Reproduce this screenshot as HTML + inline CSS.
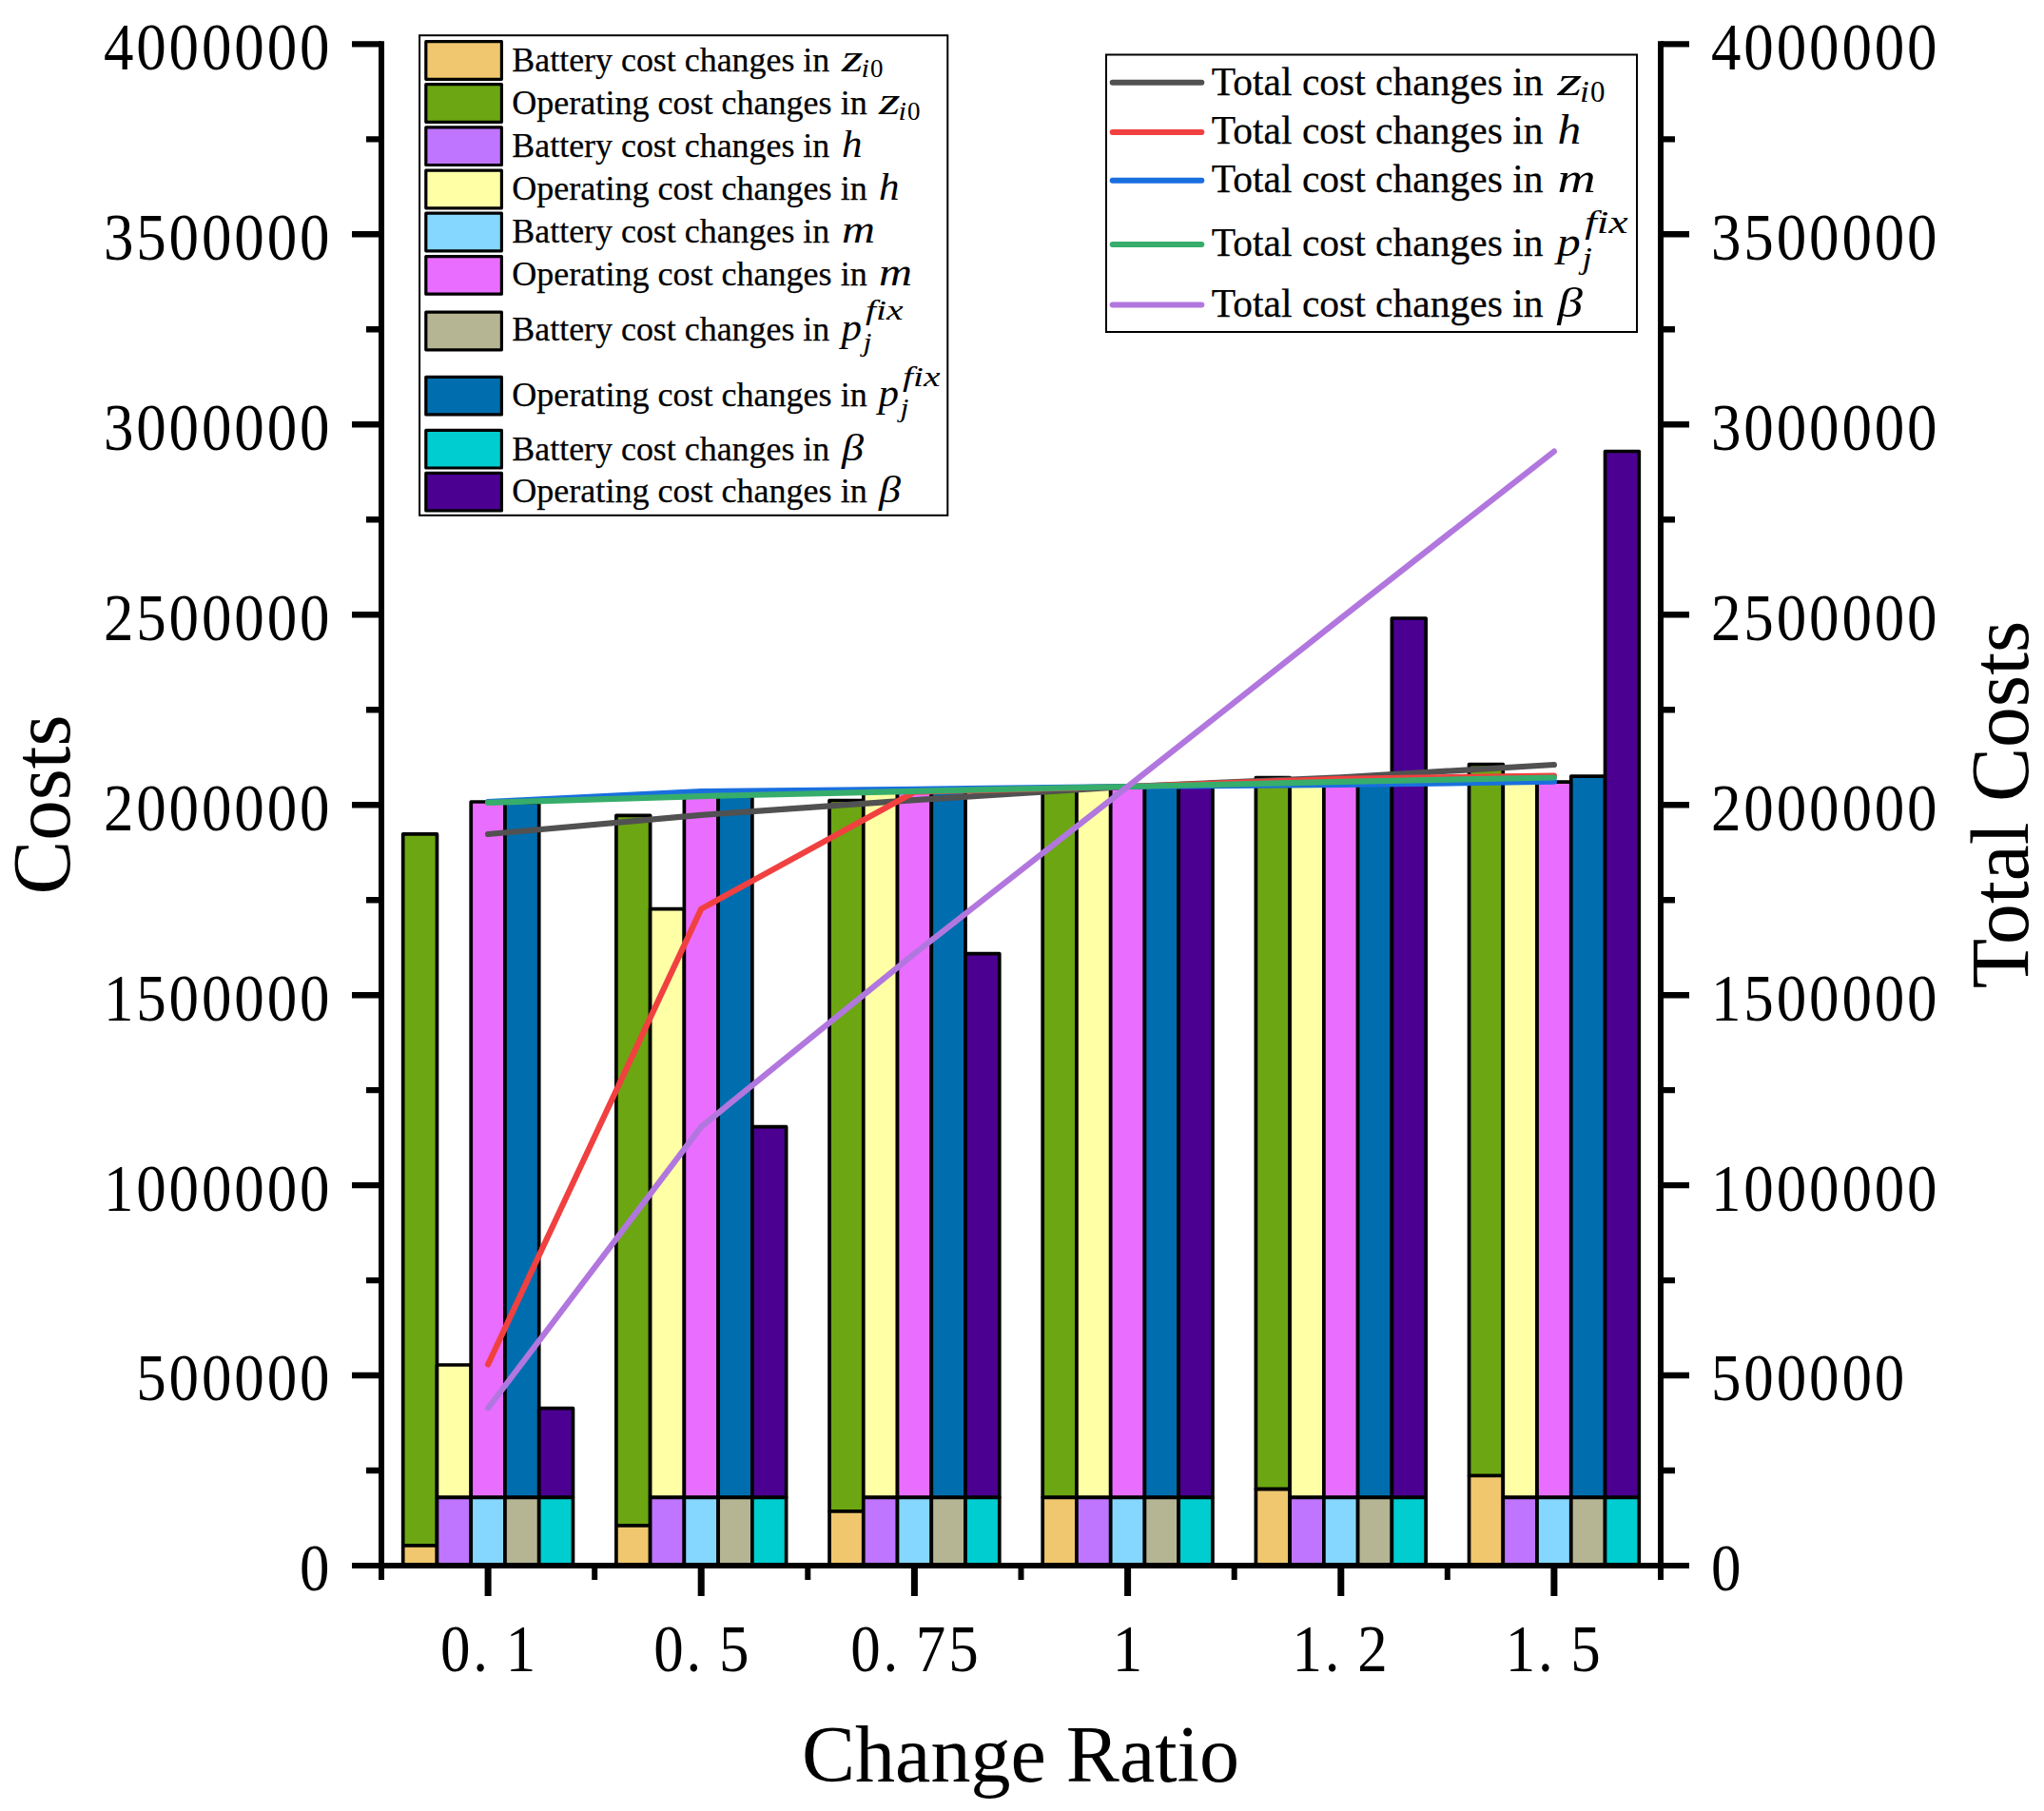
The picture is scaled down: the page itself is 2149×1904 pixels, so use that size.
<!DOCTYPE html>
<html lang="en"><head><meta charset="utf-8"><title>Cost sensitivity chart</title>
<style>html,body{margin:0;padding:0;background:#fff}body{width:2149px;height:1904px;overflow:hidden}svg{display:block}text{font-family:"Liberation Serif",serif;fill:#000}.tk{font-size:69px}.ti{font-size:85px}.l1{font-size:35.4px;stroke:#000;stroke-width:.25px}.l2{font-size:41.9px;stroke:#000;stroke-width:.25px}.it{font-style:italic}</style></head><body>
<svg width="2149" height="1904" viewBox="0 0 2149 1904">
<rect width="2149" height="1904" fill="#fff"/>
<g stroke="#000" stroke-width="3.7" stroke-linejoin="round">
<rect x="423.71" y="876.90" width="35.75" height="748.10" fill="#6CA612"/>
<rect x="423.71" y="1625.00" width="35.75" height="21.00" fill="#F0C76E"/>
<rect x="459.46" y="1435.00" width="35.75" height="139.30" fill="#FFFFA6"/>
<rect x="459.46" y="1574.30" width="35.75" height="71.70" fill="#BF75FF"/>
<rect x="495.21" y="843.00" width="35.75" height="731.30" fill="#E96DFF"/>
<rect x="495.21" y="1574.30" width="35.75" height="71.70" fill="#85D7FF"/>
<rect x="530.96" y="843.90" width="35.75" height="730.40" fill="#006DAE"/>
<rect x="530.96" y="1574.30" width="35.75" height="71.70" fill="#B5B593"/>
<rect x="566.71" y="1480.70" width="35.75" height="93.60" fill="#4B0092"/>
<rect x="566.71" y="1574.30" width="35.75" height="71.70" fill="#00CDD0"/>
<rect x="647.88" y="857.30" width="35.75" height="746.70" fill="#6CA612"/>
<rect x="647.88" y="1604.00" width="35.75" height="42.00" fill="#F0C76E"/>
<rect x="683.62" y="955.70" width="35.75" height="618.60" fill="#FFFFA6"/>
<rect x="683.62" y="1574.30" width="35.75" height="71.70" fill="#BF75FF"/>
<rect x="719.38" y="832.20" width="35.75" height="742.10" fill="#E96DFF"/>
<rect x="719.38" y="1574.30" width="35.75" height="71.70" fill="#85D7FF"/>
<rect x="755.12" y="837.10" width="35.75" height="737.20" fill="#006DAE"/>
<rect x="755.12" y="1574.30" width="35.75" height="71.70" fill="#B5B593"/>
<rect x="790.88" y="1184.70" width="35.75" height="389.60" fill="#4B0092"/>
<rect x="790.88" y="1574.30" width="35.75" height="71.70" fill="#00CDD0"/>
<rect x="872.04" y="841.50" width="35.75" height="747.50" fill="#6CA612"/>
<rect x="872.04" y="1589.00" width="35.75" height="57.00" fill="#F0C76E"/>
<rect x="907.79" y="832.70" width="35.75" height="741.60" fill="#FFFFA6"/>
<rect x="907.79" y="1574.30" width="35.75" height="71.70" fill="#BF75FF"/>
<rect x="943.54" y="829.80" width="35.75" height="744.50" fill="#E96DFF"/>
<rect x="943.54" y="1574.30" width="35.75" height="71.70" fill="#85D7FF"/>
<rect x="979.29" y="831.80" width="35.75" height="742.50" fill="#006DAE"/>
<rect x="979.29" y="1574.30" width="35.75" height="71.70" fill="#B5B593"/>
<rect x="1015.04" y="1002.70" width="35.75" height="571.60" fill="#4B0092"/>
<rect x="1015.04" y="1574.30" width="35.75" height="71.70" fill="#00CDD0"/>
<rect x="1096.21" y="827.00" width="35.75" height="747.30" fill="#6CA612"/>
<rect x="1096.21" y="1574.30" width="35.75" height="71.70" fill="#F0C76E"/>
<rect x="1131.96" y="827.00" width="35.75" height="747.30" fill="#FFFFA6"/>
<rect x="1131.96" y="1574.30" width="35.75" height="71.70" fill="#BF75FF"/>
<rect x="1167.71" y="827.00" width="35.75" height="747.30" fill="#E96DFF"/>
<rect x="1167.71" y="1574.30" width="35.75" height="71.70" fill="#85D7FF"/>
<rect x="1203.46" y="827.00" width="35.75" height="747.30" fill="#006DAE"/>
<rect x="1203.46" y="1574.30" width="35.75" height="71.70" fill="#B5B593"/>
<rect x="1239.21" y="827.00" width="35.75" height="747.30" fill="#4B0092"/>
<rect x="1239.21" y="1574.30" width="35.75" height="71.70" fill="#00CDD0"/>
<rect x="1320.38" y="817.50" width="35.75" height="748.10" fill="#6CA612"/>
<rect x="1320.38" y="1565.60" width="35.75" height="80.40" fill="#F0C76E"/>
<rect x="1356.12" y="818.80" width="35.75" height="755.50" fill="#FFFFA6"/>
<rect x="1356.12" y="1574.30" width="35.75" height="71.70" fill="#BF75FF"/>
<rect x="1391.88" y="825.00" width="35.75" height="749.30" fill="#E96DFF"/>
<rect x="1391.88" y="1574.30" width="35.75" height="71.70" fill="#85D7FF"/>
<rect x="1427.62" y="821.80" width="35.75" height="752.50" fill="#006DAE"/>
<rect x="1427.62" y="1574.30" width="35.75" height="71.70" fill="#B5B593"/>
<rect x="1463.38" y="650.00" width="35.75" height="924.30" fill="#4B0092"/>
<rect x="1463.38" y="1574.30" width="35.75" height="71.70" fill="#00CDD0"/>
<rect x="1544.54" y="803.60" width="35.75" height="747.90" fill="#6CA612"/>
<rect x="1544.54" y="1551.50" width="35.75" height="94.50" fill="#F0C76E"/>
<rect x="1580.29" y="815.50" width="35.75" height="758.80" fill="#FFFFA6"/>
<rect x="1580.29" y="1574.30" width="35.75" height="71.70" fill="#BF75FF"/>
<rect x="1616.04" y="822.10" width="35.75" height="752.20" fill="#E96DFF"/>
<rect x="1616.04" y="1574.30" width="35.75" height="71.70" fill="#85D7FF"/>
<rect x="1651.79" y="816.20" width="35.75" height="758.10" fill="#006DAE"/>
<rect x="1651.79" y="1574.30" width="35.75" height="71.70" fill="#B5B593"/>
<rect x="1687.54" y="474.50" width="35.75" height="1099.80" fill="#4B0092"/>
<rect x="1687.54" y="1574.30" width="35.75" height="71.70" fill="#00CDD0"/>
</g>
<g fill="none" stroke-width="6.2" stroke-linecap="round" stroke-linejoin="round">
<polyline stroke="#515151" points="513.1,877.0 737.2,856.9 961.4,841.1 1185.6,827.0 1409.8,817.3 1633.9,804.0"/>
<polyline stroke="#F14040" points="513.1,1434.5 737.2,955.6 961.4,832.7 1185.6,827.0 1409.8,818.8 1633.9,815.5"/>
<polyline stroke="#1A6FDF" points="513.1,843.2 737.2,832.2 961.4,829.8 1185.6,827.0 1409.8,825.0 1633.9,821.7"/>
<polyline stroke="#37AD6B" points="513.1,843.9 737.2,837.1 961.4,831.8 1185.6,827.0 1409.8,821.8 1633.9,817.5"/>
<polyline stroke="#B177DE" points="513.1,1480.5 737.2,1184.7 961.4,1002.7 1185.6,827.0 1409.8,650.0 1633.9,474.6"/>
</g>
<g stroke="#000" fill="none">
<path stroke-width="6" d="M401.0 43.2V1649.0 M1746.0 43.2V1649.0 M370.0 1646.0H1776.0"/>
<path stroke-width="6.4" d="M385.0 1546.0H401.0M1746.0 1546.0H1761.0M370.0 1446.0H401.0M1746.0 1446.0H1776.0M385.0 1346.1H401.0M1746.0 1346.1H1761.0M370.0 1246.1H401.0M1746.0 1246.1H1776.0M385.0 1146.1H401.0M1746.0 1146.1H1761.0M370.0 1046.2H401.0M1746.0 1046.2H1776.0M385.0 946.2H401.0M1746.0 946.2H1761.0M370.0 846.2H401.0M1746.0 846.2H1776.0M385.0 746.2H401.0M1746.0 746.2H1761.0M370.0 646.2H401.0M1746.0 646.2H1776.0M385.0 546.3H401.0M1746.0 546.3H1761.0M370.0 446.3H401.0M1746.0 446.3H1776.0M385.0 346.3H401.0M1746.0 346.3H1761.0M370.0 246.3H401.0M1746.0 246.3H1776.0M385.0 146.4H401.0M1746.0 146.4H1761.0M370.0 46.4H401.0M1746.0 46.4H1776.0"/>
<path stroke-width="7" d="M513.1 1646.0V1678.0M737.2 1646.0V1678.0M961.4 1646.0V1678.0M1185.6 1646.0V1678.0M1409.8 1646.0V1678.0M1633.9 1646.0V1678.0"/>
<path stroke-width="6" d="M401.0 1646.0V1661.0M625.2 1646.0V1661.0M849.3 1646.0V1661.0M1073.5 1646.0V1661.0M1297.7 1646.0V1661.0M1521.8 1646.0V1661.0M1746.0 1646.0V1661.0"/>
</g>
<g font-size="70.3">
<text transform="translate(315.00 1672.40) scale(0.895 1)" letter-spacing="3.23">0</text>
<text transform="translate(1799.00 1672.40) scale(0.895 1)" letter-spacing="3.23">0</text>
<text transform="translate(143.25 1472.45) scale(0.895 1)" letter-spacing="3.23">500000</text>
<text transform="translate(1799.00 1472.45) scale(0.895 1)" letter-spacing="3.23">500000</text>
<text transform="translate(108.90 1272.50) scale(0.895 1)" letter-spacing="3.23">1000000</text>
<text transform="translate(1799.00 1272.50) scale(0.895 1)" letter-spacing="3.23">1000000</text>
<text transform="translate(108.90 1072.55) scale(0.895 1)" letter-spacing="3.23">1500000</text>
<text transform="translate(1799.00 1072.55) scale(0.895 1)" letter-spacing="3.23">1500000</text>
<text transform="translate(108.90 872.60) scale(0.895 1)" letter-spacing="3.23">2000000</text>
<text transform="translate(1799.00 872.60) scale(0.895 1)" letter-spacing="3.23">2000000</text>
<text transform="translate(108.90 672.65) scale(0.895 1)" letter-spacing="3.23">2500000</text>
<text transform="translate(1799.00 672.65) scale(0.895 1)" letter-spacing="3.23">2500000</text>
<text transform="translate(108.90 472.70) scale(0.895 1)" letter-spacing="3.23">3000000</text>
<text transform="translate(1799.00 472.70) scale(0.895 1)" letter-spacing="3.23">3000000</text>
<text transform="translate(108.90 272.75) scale(0.895 1)" letter-spacing="3.23">3500000</text>
<text transform="translate(1799.00 272.75) scale(0.895 1)" letter-spacing="3.23">3500000</text>
<text transform="translate(108.90 72.80) scale(0.895 1)" letter-spacing="3.23">4000000</text>
<text transform="translate(1799.00 72.80) scale(0.895 1)" letter-spacing="3.23">4000000</text>
<text transform="translate(463.01 1756.60) scale(0.895 1)" letter-spacing="3.23">0.<tspan dx="17.57">1</tspan></text>
<text transform="translate(687.18 1756.60) scale(0.895 1)" letter-spacing="3.23">0.<tspan dx="17.57">5</tspan></text>
<text transform="translate(894.17 1756.60) scale(0.895 1)" letter-spacing="3.23">0.<tspan dx="17.57">75</tspan></text>
<text transform="translate(1169.86 1756.60) scale(0.895 1)" letter-spacing="3.23">1</text>
<text transform="translate(1358.47 1756.60) scale(0.895 1)" letter-spacing="3.23">1.<tspan dx="17.57">2</tspan></text>
<text transform="translate(1582.64 1756.60) scale(0.895 1)" letter-spacing="3.23">1.<tspan dx="17.57">5</tspan></text>
</g>
<g class="ti">
<text x="1073" y="1872.5" text-anchor="middle" textLength="460" lengthAdjust="spacingAndGlyphs">Change Ratio</text>
<text transform="translate(72.6 846) rotate(-90)" text-anchor="middle" font-size="87.5" textLength="189" lengthAdjust="spacingAndGlyphs">Costs</text>
<text transform="translate(2132 846) rotate(-90)" text-anchor="middle" font-size="87.5" textLength="386.5" lengthAdjust="spacingAndGlyphs">Total Costs</text>
</g>
<rect x="441.1" y="37.2" width="555.2" height="504.6" fill="#fff" stroke="#000" stroke-width="2"/>
<g stroke="#000" stroke-width="3.2" stroke-linejoin="round">
<rect x="447.8" y="43.7" width="79.6" height="39.6" fill="#F0C76E"/>
<rect x="447.8" y="88.7" width="79.6" height="39.6" fill="#6CA612"/>
<rect x="447.8" y="133.9" width="79.6" height="39.6" fill="#BF75FF"/>
<rect x="447.8" y="179.2" width="79.6" height="39.6" fill="#FFFFA6"/>
<rect x="447.8" y="224.2" width="79.6" height="39.6" fill="#85D7FF"/>
<rect x="447.8" y="269.6" width="79.6" height="39.6" fill="#E96DFF"/>
<rect x="447.8" y="328.2" width="79.6" height="39.6" fill="#B5B593"/>
<rect x="447.8" y="396.3" width="79.6" height="39.6" fill="#006DAE"/>
<rect x="447.8" y="452.4" width="79.6" height="39.6" fill="#00CDD0"/>
<rect x="447.8" y="497.3" width="79.6" height="39.6" fill="#4B0092"/>
</g>
<text class="l1" x="538.3" y="74.6" textLength="334.0" lengthAdjust="spacingAndGlyphs">Battery cost changes in</text>
<text class="it" x="885.0" y="74.6" font-size="39.0" textLength="22.5" lengthAdjust="spacingAndGlyphs">z</text><text class="it" x="905.5" y="81.1" font-size="28.1" textLength="8.5" lengthAdjust="spacingAndGlyphs">i</text><text class="" x="915.0" y="81.1" font-size="28.1" textLength="13.5" lengthAdjust="spacingAndGlyphs">0</text>
<text class="l1" x="538.3" y="119.8" textLength="373.4" lengthAdjust="spacingAndGlyphs">Operating cost changes in</text>
<text class="it" x="924.0" y="119.8" font-size="39.0" textLength="22.5" lengthAdjust="spacingAndGlyphs">z</text><text class="it" x="944.5" y="126.3" font-size="28.1" textLength="8.5" lengthAdjust="spacingAndGlyphs">i</text><text class="" x="954.0" y="126.3" font-size="28.1" textLength="13.5" lengthAdjust="spacingAndGlyphs">0</text>
<text class="l1" x="538.3" y="165.4" textLength="334.0" lengthAdjust="spacingAndGlyphs">Battery cost changes in</text>
<text class="it" x="885.0" y="165.4" font-size="39.0" textLength="21.5" lengthAdjust="spacingAndGlyphs">h</text>
<text class="l1" x="538.3" y="210.4" textLength="373.4" lengthAdjust="spacingAndGlyphs">Operating cost changes in</text>
<text class="it" x="924.0" y="210.4" font-size="39.0" textLength="21.5" lengthAdjust="spacingAndGlyphs">h</text>
<text class="l1" x="538.3" y="255.0" textLength="334.0" lengthAdjust="spacingAndGlyphs">Battery cost changes in</text>
<text class="it" x="885.0" y="255.0" font-size="39.0" textLength="35.0" lengthAdjust="spacingAndGlyphs">m</text>
<text class="l1" x="538.3" y="300.4" textLength="373.4" lengthAdjust="spacingAndGlyphs">Operating cost changes in</text>
<text class="it" x="924.0" y="300.4" font-size="39.0" textLength="35.0" lengthAdjust="spacingAndGlyphs">m</text>
<text class="l1" x="538.3" y="357.9" textLength="334.0" lengthAdjust="spacingAndGlyphs">Battery cost changes in</text>
<text class="it" x="884.5" y="357.9" font-size="39.0" textLength="21.5" lengthAdjust="spacingAndGlyphs">p</text><text class="it" x="910.0" y="336.4" font-size="28.9" textLength="39.5" lengthAdjust="spacingAndGlyphs">fix</text><text class="it" x="907.5" y="368.9" font-size="28.1" textLength="9.0" lengthAdjust="spacingAndGlyphs">j</text>
<text class="l1" x="538.3" y="427.2" textLength="373.4" lengthAdjust="spacingAndGlyphs">Operating cost changes in</text>
<text class="it" x="923.5" y="427.2" font-size="39.0" textLength="21.5" lengthAdjust="spacingAndGlyphs">p</text><text class="it" x="949.0" y="405.7" font-size="28.9" textLength="39.5" lengthAdjust="spacingAndGlyphs">fix</text><text class="it" x="946.5" y="438.2" font-size="28.1" textLength="9.0" lengthAdjust="spacingAndGlyphs">j</text>
<text class="l1" x="538.3" y="483.9" textLength="334.0" lengthAdjust="spacingAndGlyphs">Battery cost changes in</text>
<text class="it" x="885.0" y="483.9" font-size="39.0" textLength="23.0" lengthAdjust="spacingAndGlyphs">β</text>
<text class="l1" x="538.3" y="528.1" textLength="373.4" lengthAdjust="spacingAndGlyphs">Operating cost changes in</text>
<text class="it" x="924.0" y="528.1" font-size="39.0" textLength="23.0" lengthAdjust="spacingAndGlyphs">β</text>
<rect x="1163" y="57.5" width="558" height="291.5" fill="#fff" stroke="#000" stroke-width="2"/>
<g stroke-width="6" stroke-linecap="round">
<line x1="1169.7" x2="1263.3" y1="86.8" y2="86.8" stroke="#515151"/>
<line x1="1169.7" x2="1263.3" y1="139.0" y2="139.0" stroke="#F14040"/>
<line x1="1169.7" x2="1263.3" y1="189.8" y2="189.8" stroke="#1A6FDF"/>
<line x1="1169.7" x2="1263.3" y1="257.0" y2="257.0" stroke="#37AD6B"/>
<line x1="1169.7" x2="1263.3" y1="320.5" y2="320.5" stroke="#B177DE"/>
</g>
<text class="l2" x="1273.8" y="99.9" textLength="348.7" lengthAdjust="spacingAndGlyphs">Total cost changes in</text>
<text class="it" x="1637.5" y="99.9" font-size="44.8" textLength="25.9" lengthAdjust="spacingAndGlyphs">z</text><text class="it" x="1661.1" y="107.4" font-size="32.3" textLength="9.8" lengthAdjust="spacingAndGlyphs">i</text><text class="" x="1672.0" y="107.4" font-size="32.3" textLength="15.5" lengthAdjust="spacingAndGlyphs">0</text>
<text class="l2" x="1273.8" y="151.0" textLength="348.7" lengthAdjust="spacingAndGlyphs">Total cost changes in</text>
<text class="it" x="1637.5" y="151.0" font-size="44.8" textLength="24.7" lengthAdjust="spacingAndGlyphs">h</text>
<text class="l2" x="1273.8" y="202.1" textLength="348.7" lengthAdjust="spacingAndGlyphs">Total cost changes in</text>
<text class="it" x="1637.5" y="202.1" font-size="44.8" textLength="40.2" lengthAdjust="spacingAndGlyphs">m</text>
<text class="l2" x="1273.8" y="269.3" textLength="348.7" lengthAdjust="spacingAndGlyphs">Total cost changes in</text>
<text class="it" x="1636.9" y="269.3" font-size="44.8" textLength="24.7" lengthAdjust="spacingAndGlyphs">p</text><text class="it" x="1666.2" y="244.6" font-size="33.2" textLength="45.4" lengthAdjust="spacingAndGlyphs">fix</text><text class="it" x="1663.4" y="281.9" font-size="32.3" textLength="10.3" lengthAdjust="spacingAndGlyphs">j</text>
<text class="l2" x="1273.8" y="333.4" textLength="348.7" lengthAdjust="spacingAndGlyphs">Total cost changes in</text>
<text class="it" x="1637.5" y="333.4" font-size="44.8" textLength="26.4" lengthAdjust="spacingAndGlyphs">β</text>
</svg></body></html>
